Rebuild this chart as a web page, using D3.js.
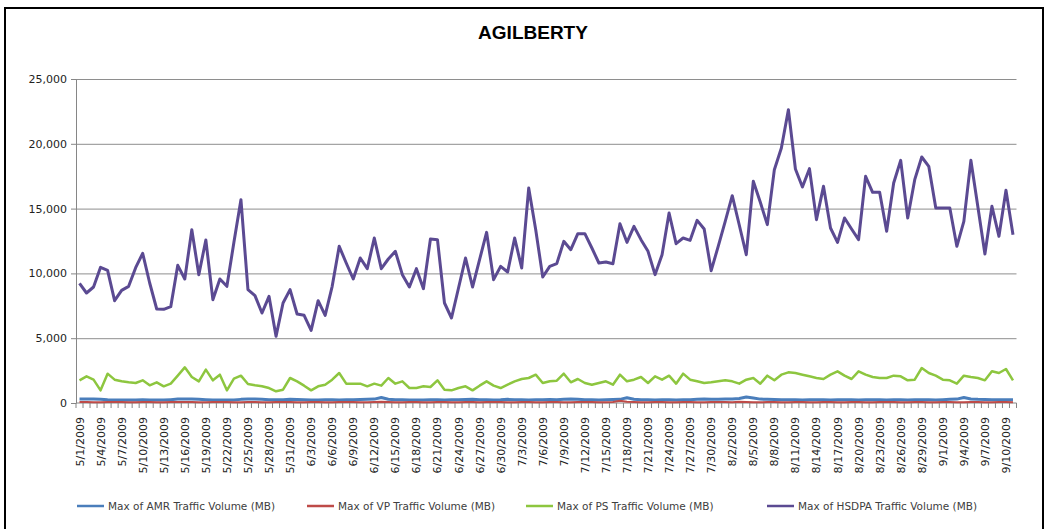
<!DOCTYPE html>
<html>
<head>
<meta charset="utf-8">
<script src="https://cdn.jsdelivr.net/npm/d3@7"></script>
<style>
  body { margin: 0; background: #fff; }
  svg { display: block; font-family: "DejaVu Sans", Verdana, sans-serif; }
  .axis path, .axis line { stroke: #868686; }
  .grid line { stroke: #8e8e8e; }
  .grid path { display: none; }
</style>
</head>
<body>
<div class="chart"></div>
<script>
//! DATA
const TITLE = 'AGILBERTY';
const START = new Date(2009, 4, 1);
const END = new Date(2009, 8, 12); // exclusive -> last day 9/11/2009
const Y_TICKS = [0, 5000, 10000, 15000, 20000, 25000];

const SERIES_NAMES = [
  'Max of AMR Traffic Volume (MB)',
  'Max of VP Traffic Volume (MB)',
  'Max of PS Traffic Volume (MB)',
  'Max of HSDPA Traffic Volume (MB)'
];

const amr = [
  310, 300, 300, 290, 250, 230, 230, 240, 240, 250, 240,
  230, 230, 260, 300, 300, 300, 290, 260, 240, 230,
  230, 240, 280, 300, 300, 290, 260, 250, 260, 280,
  270, 250, 230, 240, 260, 250, 240, 250, 260, 270,
  280, 300, 420, 290, 260, 250, 240, 230, 240, 260,
  250, 240, 250, 260, 270, 280, 260, 250, 240, 250,
  280, 260, 250, 240, 250, 260, 270, 260, 280, 300,
  280, 260, 250, 240, 250, 270, 280, 400, 290, 260,
  250, 240, 250, 260, 240, 250, 260, 280, 300, 290,
  280, 300, 310, 350, 460, 380, 300, 280, 270, 260,
  260, 250, 240, 250, 260, 250, 240, 250, 260, 250,
  240, 250, 260, 250, 240, 260, 250, 240, 250, 260,
  250, 240, 260, 280, 300, 420, 310, 280, 270, 260,
  260, 250, 250
];

const vp = [
  70, 70, 60, 60, 70, 80, 70, 60, 60, 70,
  70, 60, 60, 70, 70, 80, 70, 60, 60, 70,
  70, 70, 60, 60, 70, 70, 60, 60, 70, 80,
  70, 60, 60, 70, 70, 60, 60, 70, 80, 70,
  60, 60, 70, 90, 70, 60, 60, 70, 70, 60,
  60, 70, 70, 60, 60, 70, 70, 60, 70, 80,
  70, 60, 60, 70, 70, 60, 60, 70, 70, 60,
  60, 70, 80, 70, 60, 60, 70, 180, 90, 70,
  60, 60, 70, 70, 60, 60, 70, 70, 60, 60,
  70, 80, 70, 60, 90, 70, 60, 60, 70, 70,
  60, 60, 70, 70, 60, 60, 70, 70, 60, 60,
  70, 70, 60, 60, 70, 80, 70, 60, 60, 70,
  70, 60, 60, 70, 70, 60, 60, 70, 70, 60,
  60, 70, 70, 60
];

const ps = [
  1749, 2058, 1800, 977, 2263, 1800, 1672, 1595, 1543, 1749,
  1363, 1595, 1286, 1492, 2109, 2752, 2006, 1672, 2572, 1749,
  2186, 977, 1878, 2109, 1466, 1363, 1286, 1157, 900, 1029,
  1929, 1672, 1337, 977, 1286, 1415, 1800, 2315, 1492, 1492,
  1492, 1286, 1492, 1337, 1929, 1492, 1672, 1157, 1157, 1286,
  1234, 1749, 1029, 977, 1157, 1286, 977, 1337, 1672, 1337,
  1157, 1415, 1672, 1852, 1929, 2186, 1543, 1672, 1723, 2263,
  1595, 1852, 1543, 1415, 1543, 1672, 1415, 2186, 1672, 1800,
  2006, 1543, 2058, 1800, 2109, 1492, 2263, 1800, 1672, 1543,
  1595, 1672, 1749, 1672, 1492, 1800, 1929, 1492, 2109, 1749,
  2186, 2366, 2315, 2186, 2058, 1929, 1852, 2186, 2443, 2109,
  1852, 2443, 2186, 2006, 1929, 1929, 2109, 2058, 1749, 1800,
  2701, 2315, 2109, 1800, 1749, 1492, 2109, 2006, 1929, 1749,
  2443, 2315, 2623, 1749
];

const hsdpa = [
  9233, 8488, 8950, 10468, 10237, 7896, 8693, 9002, 10442, 11548,
  9259, 7253, 7227, 7433, 10622, 9568, 13374, 9902, 12577, 7973,
  9568, 9002, 12400, 15689, 8745, 8282, 6944, 8230, 5144, 7716,
  8745, 6867, 6764, 5607, 7896, 6764, 9002, 12088, 10802, 9568,
  11188, 10365, 12731, 10365, 11111, 11703, 9902, 8950, 10365, 8822,
  12654, 12603, 7716, 6559, 8873, 11188, 8950, 11060, 13169, 9516,
  10545, 10108, 12731, 10417, 16589, 13374, 9722, 10545, 10751, 12474,
  11831, 13066, 13066, 11960, 10802, 10880, 10751, 13837, 12397, 13632,
  12603, 11703, 9902, 11445, 14660, 12294, 12731, 12551, 14095, 13426,
  10211, 12088, 14017, 15998, 13734, 11445, 17104, 15483, 13760, 18004,
  19676, 22634, 18055, 16667, 18081, 14146, 16718, 13503, 12397, 14275,
  13426, 12603, 17490, 16255, 16255, 13246, 16975, 18724, 14275, 17232,
  18981, 18261, 15046, 15046, 15046, 12088, 14017, 18724, 15123, 11497,
  15175, 12860, 16409, 12988
];

//! CONSTS
const WIDTH = 1052, HEIGHT = 529;
const LEFT = 76, RIGHT = 1016.5, TOP = 79, BOTTOM = 403;
const COLORS = ['#4a7ebb', '#be4b48', '#8dc63f', '#5b4a92'];
const WIDTHS = [3, 2, 2.5, 3];
const LEGEND_X = [77, 307, 526, 767];

const fmtDate = d3.timeFormat('%-m/%-d/%Y');
const days = d3.timeDay.range(START, END).map(fmtDate);
const seriesData = [amr, vp, ps, hsdpa];

//! SVG
const svg = d3.select('.chart')
  .append('svg')
  .attr('width', WIDTH)
  .attr('height', HEIGHT);

// outer frame
svg.append('rect')
  .attr('x', 5).attr('y', 8)
  .attr('width', 1038).attr('height', 540)
  .attr('fill', 'none')
  .attr('stroke', '#000')
  .attr('stroke-width', 2);

svg.append('text')
  .attr('x', 533).attr('y', 39)
  .attr('text-anchor', 'middle')
  .attr('font-family', '"Liberation Sans", Arial, sans-serif')
  .attr('font-weight', 'bold')
  .attr('font-size', 19)
  .attr('fill', '#000')
  .text(TITLE);

//! SCALES
const x = d3.scaleBand().domain(days).range([LEFT, RIGHT]);
const y = d3.scaleLinear().domain([0, 25000]).range([BOTTOM, TOP]);

// gridlines
svg.append('g')
  .attr('class', 'grid')
  .attr('transform', `translate(${LEFT},0)`)
  .call(d3.axisLeft(y).tickValues(Y_TICKS.slice(1)).tickSize(-(RIGHT - LEFT)).tickFormat(''));

// y axis
const yAxis = svg.append('g')
  .attr('class', 'axis')
  .attr('transform', `translate(${LEFT},0)`)
  .call(d3.axisLeft(y).tickValues(Y_TICKS).tickSize(5).tickPadding(4).tickSizeOuter(0).tickFormat(d3.format(',')));
yAxis.selectAll('text').attr('font-size', 11).attr('fill', '#222').attr('font-family', '"DejaVu Sans", sans-serif');

// x axis: ticks on category boundaries, labels every 3 days
const xg = svg.append('g').attr('class', 'axis');
xg.append('line')
  .attr('x1', LEFT).attr('x2', RIGHT)
  .attr('y1', BOTTOM).attr('y2', BOTTOM);
xg.selectAll('.tk')
  .data(days.concat(['end']))
  .enter()
  .append('line')
  .attr('class', 'tk')
  .attr('x1', d => d === 'end' ? RIGHT : x(d))
  .attr('x2', d => d === 'end' ? RIGHT : x(d))
  .attr('y1', BOTTOM).attr('y2', BOTTOM + 5);

xg.selectAll('.lbl')
  .data(days.filter((d, i) => i % 3 === 0))
  .enter()
  .append('text')
  .attr('class', 'lbl')
  .attr('transform', d => `translate(${x(d) + x.bandwidth() / 2 + 4},${BOTTOM + 14}) rotate(-90)`)
  .attr('text-anchor', 'end')
  .attr('font-size', 11)
  .attr('fill', '#222')
  .text(d => d);

//! LINES
const line = d3.line()
  .x((d, i) => x(days[i]) + x.bandwidth() / 2)
  .y(d => y(d));

svg.append('g')
  .selectAll('path')
  .data(seriesData)
  .enter()
  .append('path')
  .attr('d', line)
  .attr('fill', 'none')
  .attr('stroke', (d, i) => COLORS[i])
  .attr('stroke-width', (d, i) => WIDTHS[i])
  .attr('stroke-linejoin', 'round');

//! LEGEND
const legend = svg.append('g')
  .selectAll('g')
  .data(SERIES_NAMES)
  .enter()
  .append('g')
  .attr('transform', (d, i) => `translate(${LEGEND_X[i]},506)`);

legend.append('line')
  .attr('x1', 0).attr('x2', 27)
  .attr('stroke', (d, i) => COLORS[i])
  .attr('stroke-width', 2.5);

legend.append('text')
  .attr('x', 31).attr('y', 4)
  .attr('font-size', 10.5)
  .attr('fill', '#404040')
  .text(d => d);
</script>
</body>
</html>
